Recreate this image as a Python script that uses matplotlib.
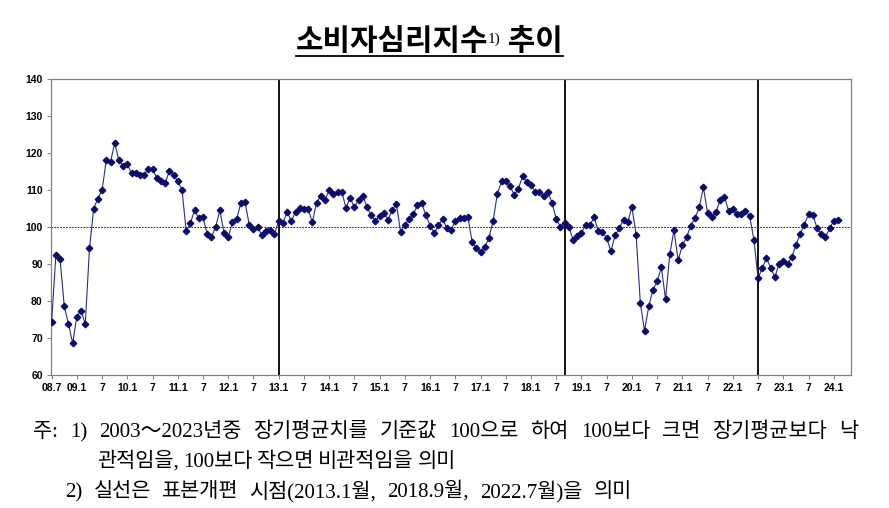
import numpy as np
import matplotlib
matplotlib.use('Agg')
from matplotlib import pyplot as plt
from matplotlib.lines import Line2D

# 소비자심리지수 월별 (2008.7 ~ 2024.2), 그림에서 읽은 값
ccsi = [74.3, 92.3, 91.4, 78.6, 73.8, 68.6, 75.8, 77.4, 73.8, 94.2,
        105.0, 107.7, 110.0, 118.0, 117.6, 122.7, 118.0, 116.4, 117.0, 114.5,
        114.5, 114.1, 114.1, 115.8, 115.7, 113.2, 112.4, 111.8, 115.1, 114.1,
        112.3, 110.1, 98.9, 101.0, 104.6, 102.3, 102.6, 98.1, 97.3, 100.0,
        104.5, 98.5, 97.2, 101.4, 102.2, 106.4, 106.7, 100.6, 99.5, 99.9,
        97.8, 99.0, 99.1, 98.1, 101.7, 101.1, 104.1, 101.6, 104.1, 105.1,
        104.9, 104.9, 101.3, 106.6, 108.3, 107.4, 109.9, 109.0, 109.5, 109.5,
        105.2, 107.9, 105.3, 107.3, 108.5, 105.3, 103.2, 101.6, 103.0, 103.8,
        102.0, 104.6, 106.2, 98.6, 100.6, 102.1, 103.4, 105.9, 106.4, 103.2,
        100.4, 98.3, 100.5, 102.1, 99.7, 99.2, 101.6, 102.5, 102.4, 102.7,
        96.0, 94.3, 93.2, 94.5, 97.1, 101.7, 109.0, 112.3, 112.4, 111.1,
        108.7, 110.4, 113.7, 112.2, 111.3, 109.5, 109.4, 108.5, 109.5, 106.6,
        102.1, 100.1, 101.0, 100.1, 96.5, 97.7, 98.5, 100.5, 100.5, 102.6,
        98.9, 98.6, 97.0, 93.4, 97.8, 99.6, 102.0, 101.3, 105.3, 97.9,
        79.5, 71.9, 78.6, 83.0, 85.3, 89.1, 80.5, 92.6, 99.1, 91.0,
        95.1, 97.2, 100.4, 102.3, 105.3, 110.7, 103.7, 102.6, 104.1, 107.3,
        108.2, 104.3, 104.8, 103.4, 103.6, 104.3, 103.0, 96.6, 86.1, 89.0,
        91.5, 89.0, 86.4, 90.1, 90.7, 90.0, 91.8, 95.1, 98.1, 100.6,
        103.4, 103.3, 99.8, 98.1, 97.2, 99.6, 101.6, 101.9]
start_year, start_month = 2008, 7

tick_labels = ['08.7', '09.1', '7', '10.1', '7', '11.1', '7', '12.1', '7',
               '13.1', '7', '14.1', '7', '15.1', '7', '16.1', '7', '17.1', '7',
               '18.1', '7', '19.1', '7', '20.1', '7', '21.1', '7', '22.1', '7',
               '23.1', '7', '24.1']
yticks = [60, 70, 80, 90, 100, 110, 120, 130, 140]
breaks = [(2013, 1), (2018, 9), (2022, 7)]   # 표본개편 시점

note1 = '주: 1) 2003～2023년중 장기평균치를 기준값 100으로 하여 100보다 크면 장기평균보다 낙'
note2 = '관적임을, 100보다 작으면 비관적임을 의미'
note3 = '2) 실선은 표본개편 시점(2013.1월, 2018.9월, 2022.7월)을 의미'

KR = ['Noto Sans CJK KR', 'DejaVu Sans']
NOTE = ['Liberation Serif', 'Noto Sans CJK KR']
W, H = 889, 508

fig = plt.figure(figsize=(W / 100, H / 100), dpi=100)
ax = fig.add_axes([51 / W, 1 - 375 / H, 800 / W, 296 / H])

x = np.arange(len(ccsi))
ax.plot(x, ccsi, color='#2b2b8a', lw=0.8, marker='D', ms=3.3,
        mfc='#0b0b6e', mec='#0b0b6e', zorder=3)
ax.axhline(100, color='black', lw=0.6, ls=(0, (2, 1.5)), zorder=1)
for yy, mm in breaks:
    ax.axvline((yy - start_year) * 12 + mm - start_month, color='black', lw=1.3, zorder=2)

ax.set_xlim(-0.15, 190.1)
ax.set_ylim(60, 140)
ax.set_yticks(yticks)
ax.set_xticks(np.arange(len(tick_labels)) * 6)
ax.set_xticklabels(tick_labels)
ax.tick_params(axis='both', direction='out', length=3, width=0.7, color='#808080',
               labelsize=7.5, pad=3)
for lab in ax.get_xticklabels() + ax.get_yticklabels():
    lab.set_fontweight('bold')
    lab.set_family('Liberation Sans')
for s in ax.spines.values():
    s.set_color('#808080')
    s.set_linewidth(0.9)

fig.canvas.draw()
r = fig.canvas.get_renderer()

# 제목 (위첨자, 밑줄 포함)
ty = 1 - 50 / H
t1 = fig.text(0, ty, '소비자심리지수', fontsize=21.5, fontweight='bold', family=KR, va='baseline')
t2 = fig.text(0, 1 - 43 / H, '1)', fontsize=11, family=NOTE, va='baseline')
t3 = fig.text(0, ty, ' 추이', fontsize=21.5, fontweight='bold', family=KR, va='baseline')
ws = [t.get_window_extent(r).width for t in (t1, t2, t3)]
x0 = 429 - sum(ws) / 2
pos = x0
for t, w in zip((t1, t2, t3), ws):
    t.set_x(pos / W)
    pos += w
fig.add_artist(Line2D([x0 / W, pos / W], [1 - 56 / H, 1 - 56 / H], color='black',
                      lw=1.3, transform=fig.transFigure))


def spread(line, x_start, x_end, y):
    # 단어를 x_start ~ x_end 사이에 고르게 배치
    words = line.split(' ')
    tw = [fig.text(0, 1 - y / H, w, fontsize=15, family=NOTE, va='baseline') for w in words]
    widths = [t.get_window_extent(r).width for t in tw]
    gap = (x_end - x_start - sum(widths)) / (len(words) - 1)
    p = x_start
    for t, w in zip(tw, widths):
        t.set_x(p / W)
        p += w + gap


spread(note1, 33, 858, 437)
spread(note2, 97, 456, 467)
spread(note3, 65, 632, 497)

fig.savefig('out.png', dpi=100)
